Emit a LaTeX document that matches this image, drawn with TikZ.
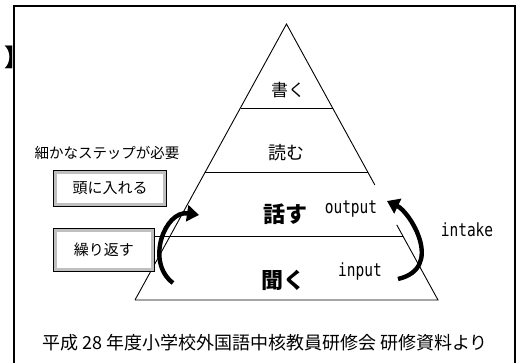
\documentclass[tikz,border=0pt]{standalone}
\usepackage{fontspec}
\newfontfamily\jp{Noto Sans CJK JP}
\newfontfamily\lat{DejaVu Sans Mono}
\usetikzlibrary{arrows.meta,calc}
\tikzset{
  frameline/.style={line width=1.6pt},
  pyr/.style={line width=0.9pt},
  bevelbox/.style={draw, line width=0.6pt, double=gray!50, double distance=3.2pt, inner sep=0pt, font=\jp\fontsize{15}{15}\selectfont},
  jlabel/.style={font=\jp\fontsize{#1}{#1}\selectfont, inner sep=0pt},
  elabel/.style={font=\lat\fontsize{14.5}{14.5}\selectfont, inner sep=0pt},
  bigarrow/.style={line width=4.4pt, -{Triangle[length=12pt,width=16pt]}},
}
\newcommand{\tallt}[1]{\scalebox{1}[1.25]{#1}}
\begin{document}
\begin{tikzpicture}[x=1pt,y=-1pt]
\useasboundingbox (0,0) rectangle (523,363);
% outer frame
\draw[frameline] (14,365) -- (14,6) -- (515,6) -- (515,365);
\node[jlabel=24, font=\jp\bfseries\fontsize{24}{24}\selectfont, anchor=west] (br) at (4,57) {】};
% pyramid
\coordinate (A) at (286.5,24);
\coordinate (BL) at (135,300);
\coordinate (BR) at (438,300);
\draw[pyr] (BL) -- (A) -- ($(A)!0.583!(BR)$);
\draw[pyr] ($(A)!0.728!(BR)$) -- (BR) -- (BL);
\coordinate (l1) at (240.5,108); \coordinate (r1) at (332.5,108);
\coordinate (l2) at (205,172);   \coordinate (r2) at (368,172);
\coordinate (l3) at (155,236);   \coordinate (r3) at (402.6,236);
\draw[pyr] (l1) -- (r1);
\draw[pyr] (l2) -- (r2);
\draw[pyr] (l3) -- (r3);
% pyramid labels
\node[jlabel=17] (kaku) at (288,90) {書く};
\node[jlabel=18] (yomu) at (286,153) {読む};
\node[jlabel=22, font=\jp\bfseries\fontsize{22}{22}\selectfont] (hanasu) at (285,214) {話す};
\node[jlabel=22, font=\jp\bfseries\fontsize{22}{22}\selectfont] (kiku) at (283,280) {聞く};
\node[elabel] (out) at (351,209) {\tallt{output}};
\node[elabel] (intk) at (467,230) {\tallt{intake}};
\node[elabel] (inp) at (360,272) {\tallt{input}};
% left side
\node[jlabel=14.5] (step) at (107,153) {細かなステップが必要};
\node[bevelbox, minimum width=109.6pt, minimum height=32.6pt] (atama) at (110,188.5) {頭に入れる};
\node[bevelbox, minimum width=97.6pt, minimum height=39.6pt] (kuri) at (104,250) {繰り返す};
% arrows
\coordinate (la0) at (173,283);
\coordinate (la1) at (199,215);
\draw[bigarrow] (la0) .. controls (145,262) and (165,210) .. (la1);
\coordinate (ra0) at (398,279);
\coordinate (ra1) at (387,201);
\draw[bigarrow] (ra0) .. controls (445,268) and (410,212) .. (ra1);
% footer
\node[jlabel=18] (foot) at (265,343) {平成 28 年度小学校外国語中核教員研修会 研修資料より};
\end{tikzpicture}
\end{document}
